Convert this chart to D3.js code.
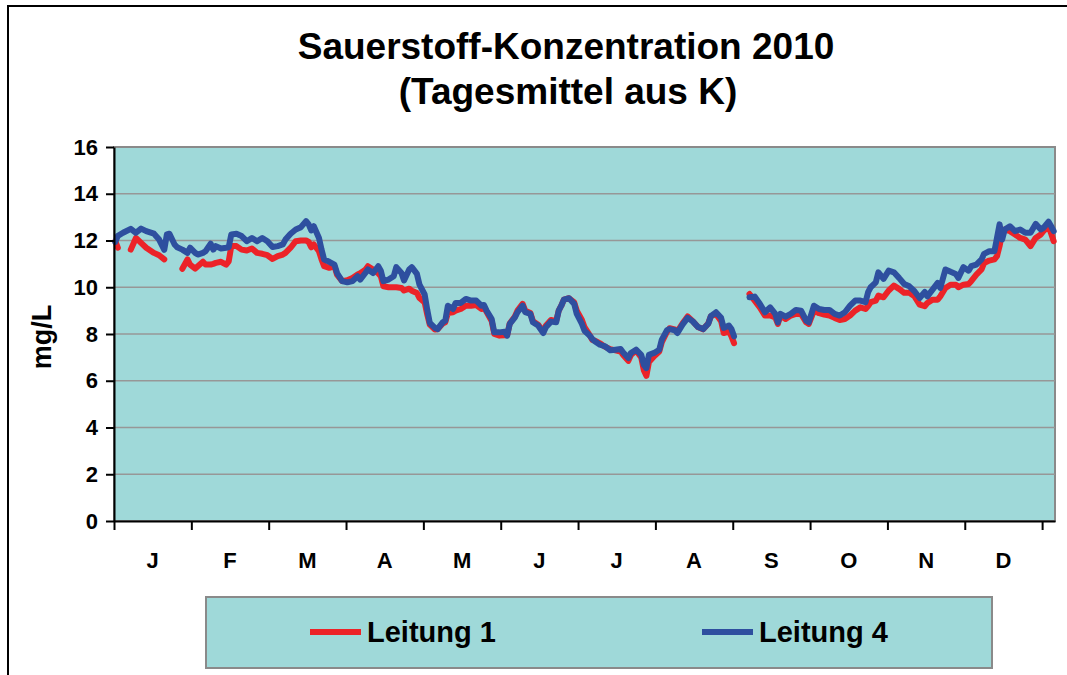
<!DOCTYPE html>
<html lang="de">
<head>
<meta charset="utf-8">
<title>Sauerstoff-Konzentration 2010</title>
<script src="https://cdn.jsdelivr.net/npm/d3@7"></script>
<style>
  body { margin: 0; background: #fff; }
  svg text { font-family: "Liberation Sans", Arial, sans-serif; font-weight: bold; fill: #000; }
</style>
</head>
<body>
<div id="chart"></div>
<script>
// day of year (0 = 1 Jan); null = no data
var days = [0, 1, 3, 6, 8, 10, 12, 15, 17, 19, 20, 21, 23, 24, 26, 28, 29, 31, 32, 34,
  35, 37, 38, 39, 41, 43, 44, 45, 47, 49, 51, 53, 55, 57, 59, 61, 63, 65, 66, 68,
  70, 72, 74, 75, 76, 77, 79, 80, 81, 83, 85, 86, 88, 90, 92, 94, 95, 97, 98, 100,
  102, 103, 104, 106, 108, 109, 111, 112, 114, 115, 117, 118, 120, 121, 122, 124, 125, 127, 128, 129,
  131, 132, 134, 136, 138, 140, 142, 143, 144, 146, 147, 149, 151, 152, 153, 155, 156, 158, 159, 161,
  162, 164, 166, 167, 169, 171, 172, 173, 174, 176, 178, 179, 181, 182, 184, 185, 186, 188, 190, 192,
  194, 196, 197, 199, 200, 202, 204, 205, 206, 207, 209, 211, 212, 214, 215, 217, 218, 220, 222, 224,
  226, 228, 230, 231, 233, 235, 236, 238, 239, 240, 241, 246, 248, 250, 252, 254, 256, 257, 258, 260,
  262, 264, 266, 268, 269, 271, 273, 275, 277, 279, 281, 283, 285, 287, 289, 291, 292, 293, 295, 296,
  298, 300, 302, 304, 306, 308, 310, 312, 314, 315, 317, 319, 320, 322, 324, 326, 327, 329, 331, 332,
  334, 336, 337, 339, 341, 342, 343, 344, 345, 347, 349, 351, 353, 355, 357, 359, 360, 362, 363, 364];

var leitung1 = [11.97, 11.69, null, 11.61, 12.11, 11.9, 11.69, 11.47, 11.37, 11.19, null, null, null, null, 10.79, 11.19, 10.97, 10.8, 10.9, 11.09,
  10.97, 10.97, 11.0, 11.04, 11.09, 10.97, 11.11, 11.76, 11.76, 11.61, 11.57, 11.66, 11.47, 11.43, 11.37, 11.21, 11.33, 11.4, 11.47, 11.69,
  11.97, 12.0, 12.0, 11.94, 11.71, 11.83, 11.54, 11.19, 10.9, 10.83, 10.9, 10.54, 10.26, 10.3, 10.4, 10.55, 10.6, 10.75, 10.9, 10.76,
  10.6, 10.47, 10.04, 10.0, 10.0, 10.0, 9.97, 9.86, 9.94, 9.85, 9.75, 9.54, 9.35, 8.83, 8.4, 8.19, 8.2, 8.45, 8.5, 8.9,
  8.93, 9.0, 9.07, 9.21, 9.21, 9.24, 9.07, 9.15, 8.95, 8.55, 8.0, 7.93, 7.95, 7.95, 8.45, 8.75, 9.0, 9.29, 9.0, 8.9,
  8.55, 8.4, 8.1, 8.35, 8.6, 8.55, 9.0, 9.21, 9.47, 9.53, 9.35, 9.0, 8.6, 8.3, 7.95, 7.75, 7.72, 7.6, 7.45, 7.35,
  7.3, 7.25, 7.1, 6.85, 7.1, 7.3, 7.0, 6.45, 6.21, 6.8, 7.05, 7.25, 7.65, 8.1, 8.25, 8.2, 8.1, 8.45, 8.75, 8.55,
  8.3, 8.2, 8.45, 8.76, 8.86, 8.55, 8.04, 8.1, 7.9, 7.61, null, 9.71, 9.43, 9.14, 8.79, 8.79, 8.71, 8.43, 8.79, 8.64,
  8.79, 8.86, 8.86, 8.5, 8.43, 9.0, 8.89, 8.83, 8.79, 8.69, 8.6, 8.64, 8.79, 9.0, 9.14, 9.07, 9.2, 9.36, 9.43, 9.64,
  9.57, 9.86, 10.07, 9.93, 9.76, 9.76, 9.61, 9.26, 9.19, 9.33, 9.47, 9.47, 9.61, 9.97, 10.11, 10.11, 10.0, 10.11, 10.14, 10.26,
  10.54, 10.76, 11.04, 11.14, 11.19, 11.33, 11.76, 12.33, 12.47, 12.4, 12.26, 12.11, 12.04, 11.76, 12.11, 12.26, 12.4, 12.61, 12.3, 11.97];

var leitung4 = [11.94, 12.2, 12.33, 12.5, 12.33, 12.51, 12.4, 12.29, 12.04, 11.6, 12.26, 12.29, 11.83, 11.71, 11.61, 11.47, 11.69, 11.47, 11.4, 11.47,
  11.54, 11.86, 11.61, 11.76, 11.66, 11.69, 11.72, 12.26, 12.29, 12.19, 11.97, 12.11, 11.97, 12.11, 11.97, 11.72, 11.76, 11.83, 12.04, 12.29,
  12.47, 12.57, 12.83, 12.69, 12.43, 12.61, 12.11, 11.61, 11.19, 11.09, 10.97, 10.61, 10.26, 10.21, 10.26, 10.47, 10.33, 10.61, 10.76, 10.61,
  10.9, 10.71, 10.26, 10.33, 10.47, 10.86, 10.61, 10.29, 10.76, 10.86, 10.57, 10.11, 9.69, 9.04, 8.47, 8.26, 8.21, 8.5, 8.57, 9.21,
  9.07, 9.33, 9.33, 9.5, 9.43, 9.43, 9.21, 9.24, 9.0, 8.64, 8.07, 8.07, 8.1, 7.93, 8.43, 8.71, 8.93, 9.21, 8.93, 8.86,
  8.5, 8.36, 8.04, 8.29, 8.53, 8.5, 9.0, 9.21, 9.47, 9.53, 9.29, 8.86, 8.43, 8.14, 7.93, 7.79, 7.69, 7.54, 7.47, 7.3,
  7.33, 7.36, 7.21, 6.97, 7.19, 7.33, 7.11, 6.69, 6.54, 7.11, 7.19, 7.33, 7.76, 8.16, 8.21, 8.16, 8.04, 8.4, 8.69, 8.54,
  8.3, 8.21, 8.44, 8.76, 8.93, 8.69, 8.26, 8.36, 8.21, 7.9, null, 9.57, 9.6, 9.29, 8.93, 9.14, 8.86, 8.5, 8.86, 8.74,
  8.86, 9.03, 9.0, 8.57, 8.5, 9.21, 9.07, 9.03, 9.03, 8.86, 8.79, 8.93, 9.21, 9.43, 9.43, 9.36, 9.79, 10.0, 10.21, 10.64,
  10.36, 10.71, 10.64, 10.4, 10.14, 10.04, 9.83, 9.54, 9.8, 9.61, 9.9, 10.19, 9.97, 10.76, 10.66, 10.57, 10.4, 10.86, 10.71, 10.9,
  10.97, 11.19, 11.43, 11.54, 11.54, 12.11, 12.69, 12.04, 12.47, 12.61, 12.4, 12.47, 12.33, 12.33, 12.71, 12.47, 12.54, 12.8, 12.61, 12.4];

var monthLabels = ["J", "F", "M", "A", "M", "J", "J", "A", "S", "O", "N", "D"];
var yTicks = [0, 2, 4, 6, 8, 10, 12, 14, 16];
var seriesNames = ["Leitung 1", "Leitung 4"];

var W = 1067, H = 675;
var plot = { left: 114, right: 1055, top: 147, bottom: 521 };
var teal = "#9fd9d9";
var colors = ["#ec2328", "#2e4f9f"];

var svg = d3.select("#chart").append("svg")
  .attr("width", W)
  .attr("height", H);

// outer frame; right and bottom edges fall outside the picture
svg.append("rect")
  .attr("x", 8).attr("y", 6)
  .attr("width", W + 20).attr("height", H + 20)
  .attr("fill", "#fff")
  .attr("stroke", "#000")
  .attr("stroke-width", 2);

// title
svg.append("text")
  .attr("x", 566).attr("y", 59)
  .attr("text-anchor", "middle")
  .style("font-size", "37px")
  .text("Sauerstoff-Konzentration 2010");
svg.append("text")
  .attr("x", 568).attr("y", 104)
  .attr("text-anchor", "middle")
  .style("font-size", "37px")
  .text("(Tagesmittel aus K)");

var x = d3.scaleLinear().domain([-0.5, 364.5]).range([plot.left, plot.right]);
var y = d3.scaleLinear().domain([0, 16]).range([plot.bottom, plot.top]);

// plot area
svg.append("rect")
  .attr("x", plot.left).attr("y", plot.top)
  .attr("width", plot.right - plot.left)
  .attr("height", plot.bottom - plot.top)
  .attr("fill", teal)
  .attr("stroke", "#8a8a8a")
  .attr("stroke-width", 2);

// gridlines
svg.append("g").selectAll("line")
  .data(yTicks.filter(v => v > 0 && v < 16))
  .enter().append("line")
  .attr("x1", plot.left).attr("x2", plot.right)
  .attr("y1", d => y(d)).attr("y2", d => y(d))
  .attr("stroke", "#979797")
  .attr("stroke-width", 1.5);

// series
var line = d3.line()
  .defined(d => d[1] != null)
  .x(d => x(d[0]))
  .y(d => y(d[1]));

[leitung1, leitung4].forEach(function (vals, i) {
  svg.append("path")
    .datum(days.map((d, j) => [d, vals[j]]))
    .attr("d", line)
    .attr("fill", "none")
    .attr("stroke", colors[i])
    .attr("stroke-width", 6)
    .attr("stroke-linejoin", "round")
    .attr("stroke-linecap", "round");
});

// y axis
var yAxis = svg.append("g")
  .attr("transform", "translate(" + plot.left + ",0)")
  .call(d3.axisLeft(y).tickValues(yTicks).tickSize(8).tickSizeOuter(0).tickPadding(8));
yAxis.selectAll("text").style("font-size", "22px");

// x axis: a tick every 30 days, month letters between them
var xAxis = svg.append("g")
  .attr("transform", "translate(0," + plot.bottom + ")")
  .call(d3.axisBottom(x).tickValues(d3.range(13).map(k => k * 30 - 0.5)).tickSize(9).tickSizeOuter(0).tickFormat(""));

svg.append("g").selectAll("text")
  .data(monthLabels)
  .enter().append("text")
  .attr("x", (d, i) => x(i * 30 + 14.5))
  .attr("y", 568)
  .attr("text-anchor", "middle")
  .style("font-size", "22px")
  .text(d => d);

[yAxis, xAxis].forEach(function (a) {
  a.selectAll("path, line").attr("stroke", "#000").attr("stroke-width", 2);
});

// y axis title
svg.append("text")
  .attr("transform", "translate(51,337) rotate(-90)")
  .attr("text-anchor", "middle")
  .style("font-size", "27px")
  .text("mg/L");

// legend
var legend = svg.append("g");
legend.append("rect")
  .attr("x", 206).attr("y", 597)
  .attr("width", 786).attr("height", 71)
  .attr("fill", teal)
  .attr("stroke", "#8a8a8a")
  .attr("stroke-width", 2);

var legendX = [310, 702];
seriesNames.forEach(function (name, i) {
  legend.append("line")
    .attr("x1", legendX[i]).attr("x2", legendX[i] + 51)
    .attr("y1", 632).attr("y2", 632)
    .attr("stroke", colors[i])
    .attr("stroke-width", 6);
  legend.append("text")
    .attr("x", legendX[i] + 57).attr("y", 642)
    .style("font-size", "29px")
    .text(name);
});
</script>
</body>
</html>
